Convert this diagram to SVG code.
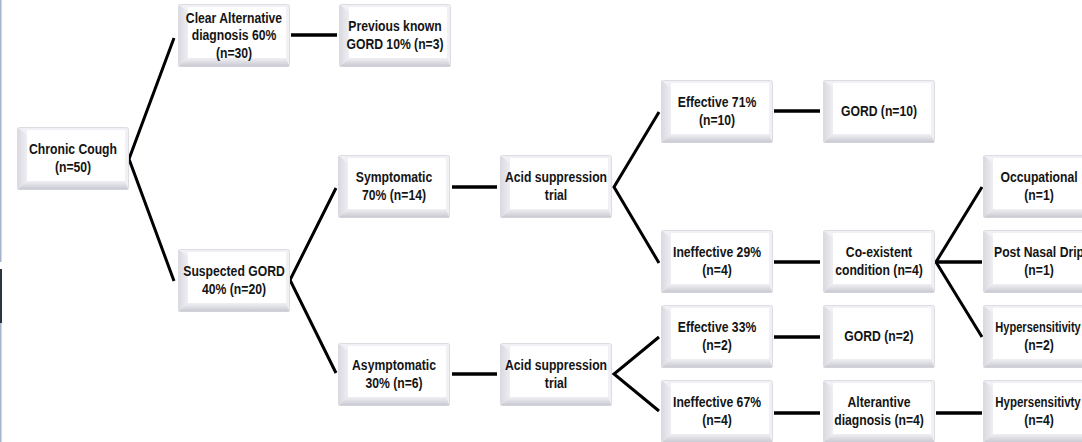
<svg xmlns="http://www.w3.org/2000/svg" xmlns:xlink="http://www.w3.org/1999/xlink" width="1082" height="442" viewBox="0 0 1082 442">
<style>
.t{font-family:"Liberation Sans",Arial,sans-serif;font-weight:bold;font-size:14px;fill:#141414;text-anchor:middle}
.c{stroke:#000;stroke-width:3;fill:none;stroke-linejoin:miter}
.h{stroke:#000;stroke-width:3.6;fill:none}
</style>
<defs>
<linearGradient id="gl" x1="0" y1="0" x2="1" y2="0">
<stop offset="0" stop-color="#d9d9e0"/><stop offset="1" stop-color="#eeeef2"/>
</linearGradient>
<linearGradient id="gb" x1="0" y1="0" x2="0" y2="1">
<stop offset="0" stop-color="#f0f0f4"/><stop offset="1" stop-color="#c8c8d1"/>
</linearGradient>
<g id="box">
<rect x="0.5" y="0.5" width="111" height="62" rx="2" fill="#f1f1f5" stroke="#dcdce3" stroke-width="1"/>
<polygon points="0.5,0.5 10,8 10,54 0.5,62.5" fill="url(#gl)"/>
<polygon points="0.5,62.5 10,54 108,54 111.5,62.5" fill="url(#gb)"/>
<rect x="10" y="3" width="98" height="51" fill="#ffffff"/>
</g>
</defs>
<rect width="1082" height="442" fill="#ffffff"/>
<rect x="0" y="0" width="1.5" height="262" fill="#a3b5c8"/>
<rect x="0" y="269" width="2" height="54" fill="#2b3440"/>
<rect x="0" y="323" width="1.5" height="119" fill="#a3b5c8"/>

<g id="connectors">
<polyline class="c" points="174,38 129,159 174,281"/>
<line class="h" x1="291" y1="35" x2="337" y2="35"/>
<polyline class="c" points="336,188 290,280 336,373"/>
<line class="h" x1="452" y1="187" x2="497" y2="187"/>
<line class="h" x1="452" y1="374" x2="497" y2="374"/>
<polyline class="c" points="659,112 614,187 659,263"/>
<polyline class="c" points="659,337 614,374 659,411"/>
<line class="h" x1="774" y1="111" x2="820" y2="111"/>
<line class="h" x1="774" y1="262" x2="820" y2="262"/>
<line class="h" x1="774" y1="337" x2="820" y2="337"/>
<line class="h" x1="774" y1="413" x2="820" y2="413"/>
<polyline class="c" points="982,187 936,262 982,337"/>
<line class="h" x1="936" y1="262" x2="982" y2="262"/>
<line class="h" x1="936" y1="413" x2="982" y2="413"/>
</g>

<g id="n-chronic"><use xlink:href="#box" x="17" y="127"/>
<text class="t" transform="translate(73 0) scale(0.87 1)"><tspan x="0" y="154.5">Chronic Cough</tspan><tspan x="0" y="172.5">(n=50)</tspan></text></g>

<g id="n-clearalt"><use xlink:href="#box" x="178" y="4"/>
<text class="t" transform="translate(234 0) scale(0.87 1)"><tspan x="0" y="23">Clear Alternative</tspan><tspan x="0" y="40">diagnosis 60%</tspan><tspan x="0" y="58">(n=30)</tspan></text></g>

<g id="n-previous"><use xlink:href="#box" x="339" y="4"/>
<text class="t" transform="translate(395 0) scale(0.87 1)"><tspan x="0" y="31.5">Previous known</tspan><tspan x="0" y="49.5">GORD 10% (n=3)</tspan></text></g>

<g id="n-suspected"><use xlink:href="#box" x="178" y="249"/>
<text class="t" transform="translate(234 0) scale(0.87 1)"><tspan x="0" y="276.5">Suspected GORD</tspan><tspan x="0" y="294.5">40% (n=20)</tspan></text></g>

<g id="n-symptomatic"><use xlink:href="#box" x="338" y="155"/>
<text class="t" transform="translate(394 0) scale(0.87 1)"><tspan x="0" y="182.5">Symptomatic</tspan><tspan x="0" y="200.5">70% (n=14)</tspan></text></g>

<g id="n-acid1"><use xlink:href="#box" x="500" y="155"/>
<text class="t" transform="translate(556 0) scale(0.87 1)"><tspan x="0" y="182.5">Acid suppression</tspan><tspan x="0" y="200.5">trial</tspan></text></g>

<g id="n-asymptomatic"><use xlink:href="#box" x="338" y="343"/>
<text class="t" transform="translate(394 0) scale(0.87 1)"><tspan x="0" y="370.5">Asymptomatic</tspan><tspan x="0" y="388.5">30% (n=6)</tspan></text></g>

<g id="n-acid2"><use xlink:href="#box" x="500" y="343"/>
<text class="t" transform="translate(556 0) scale(0.87 1)"><tspan x="0" y="370.5">Acid suppression</tspan><tspan x="0" y="388.5">trial</tspan></text></g>

<g id="n-eff71"><use xlink:href="#box" x="661" y="80"/>
<text class="t" transform="translate(717 0) scale(0.87 1)"><tspan x="0" y="107.5">Effective 71%</tspan><tspan x="0" y="125.5">(n=10)</tspan></text></g>

<g id="n-gord10"><use xlink:href="#box" x="823" y="80"/>
<text class="t" transform="translate(879 0) scale(0.87 1)"><tspan x="0" y="116.5">GORD (n=10)</tspan></text></g>

<g id="n-ineff29"><use xlink:href="#box" x="661" y="230"/>
<text class="t" transform="translate(717 0) scale(0.87 1)"><tspan x="0" y="257.5">Ineffective 29%</tspan><tspan x="0" y="275.5">(n=4)</tspan></text></g>

<g id="n-coexistent"><use xlink:href="#box" x="823" y="230"/>
<text class="t" transform="translate(879 0) scale(0.87 1)"><tspan x="0" y="257.5">Co-existent</tspan><tspan x="0" y="275.5">condition (n=4)</tspan></text></g>

<g id="n-occupational"><use xlink:href="#box" x="983" y="155"/>
<text class="t" transform="translate(1039 0) scale(0.87 1)"><tspan x="0" y="182.5">Occupational</tspan><tspan x="0" y="200.5">(n=1)</tspan></text></g>

<g id="n-postnasal"><use xlink:href="#box" x="983" y="230"/>
<text class="t" transform="translate(1039 0) scale(0.87 1)"><tspan x="0" y="257.5">Post Nasal Drip</tspan><tspan x="0" y="275.5">(n=1)</tspan></text></g>

<g id="n-hyper2"><use xlink:href="#box" x="983" y="305"/>
<text class="t" transform="translate(1038 0) scale(0.79 1)"><tspan x="0" y="332.5">Hypersensitivity</tspan></text>
<text class="t" transform="translate(1039 0) scale(0.87 1)"><tspan x="0" y="350.5">(n=2)</tspan></text></g>

<g id="n-eff33"><use xlink:href="#box" x="661" y="305"/>
<text class="t" transform="translate(717 0) scale(0.87 1)"><tspan x="0" y="332.5">Effective 33%</tspan><tspan x="0" y="350.5">(n=2)</tspan></text></g>

<g id="n-gord2"><use xlink:href="#box" x="823" y="305"/>
<text class="t" transform="translate(879 0) scale(0.87 1)"><tspan x="0" y="341.5">GORD (n=2)</tspan></text></g>

<g id="n-ineff67"><use xlink:href="#box" x="661" y="380"/>
<text class="t" transform="translate(717 0) scale(0.87 1)"><tspan x="0" y="407.5">Ineffective 67%</tspan><tspan x="0" y="425.5">(n=4)</tspan></text></g>

<g id="n-altdiag"><use xlink:href="#box" x="823" y="380"/>
<text class="t" transform="translate(879 0) scale(0.87 1)"><tspan x="0" y="407.5">Alterantive</tspan><tspan x="0" y="425.5">diagnosis (n=4)</tspan></text></g>

<g id="n-hyper4"><use xlink:href="#box" x="983" y="380"/>
<text class="t" transform="translate(1038 0) scale(0.82 1)"><tspan x="0" y="407.5">Hypersensitivty</tspan></text>
<text class="t" transform="translate(1039 0) scale(0.87 1)"><tspan x="0" y="425.5">(n=4)</tspan></text></g>
</svg>
